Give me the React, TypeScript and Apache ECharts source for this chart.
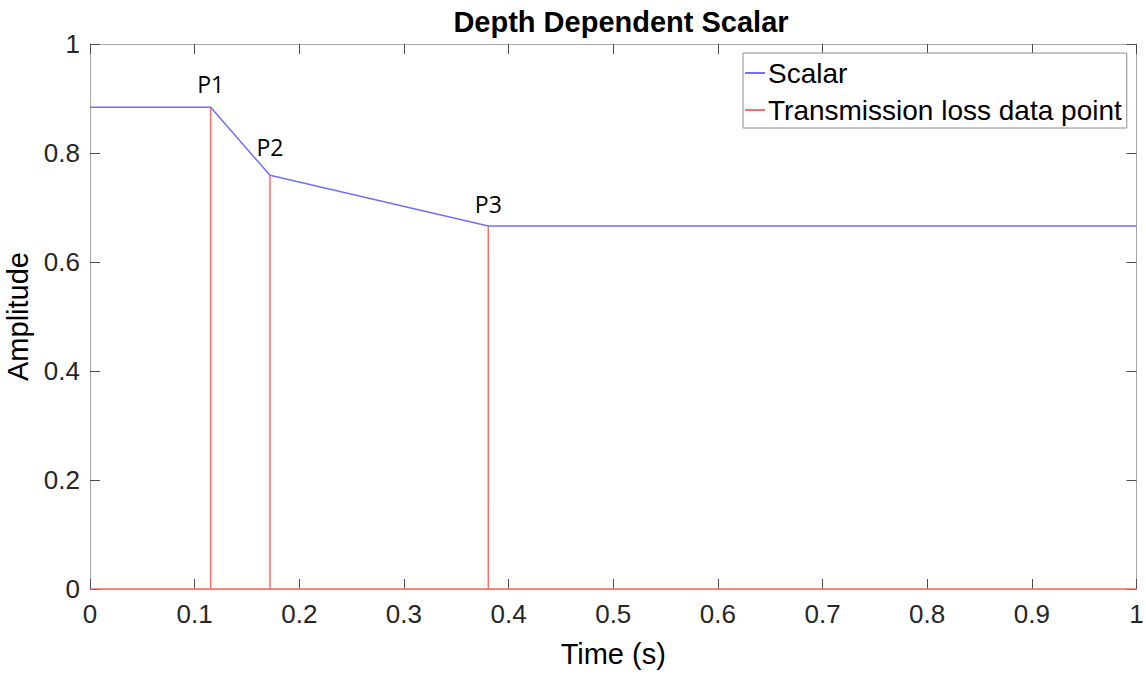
import React, { useEffect, useRef } from "react";
import * as echarts from "echarts";

const pointNames = ["P1", "P2", "P3"];
const pointTimes = [0.1153, 0.172, 0.3806];
const pointAmps = [0.884, 0.759, 0.666];
const startAmp = 0.884;
const endAmp = 0.666;
const xRange = [0, 1];
const yRange = [0, 1];
const labelOffsets = [-1, -6, 0];

export default function App() {
  const ref = useRef<HTMLDivElement>(null);
  useEffect(() => {
    if (!ref.current) return;
    const chart = echarts.init(ref.current, null, { renderer: "svg" });
    const scalar: number[][] = [[xRange[0], startAmp]];
    pointTimes.forEach((t, i) => scalar.push([t, pointAmps[i]]));
    scalar.push([xRange[1], endAmp]);

    const stems: number[][] = [[xRange[0], 0]];
    pointTimes.forEach((t, i) => {
      stems.push([t, 0], [t, pointAmps[i]], [t, 0]);
    });
    stems.push([xRange[1], 0]);

    const labels = pointTimes.map((t, i) => ({
      value: [t, pointAmps[i]],
      name: pointNames[i],
      label: { offset: [0, labelOffsets[i]] },
    }));

    const axisCommon = {
      type: "value" as const,
      axisLine: { show: true, onZero: false, lineStyle: { color: "#a6a6a6", width: 1 } },
      axisTick: { show: true, inside: true, length: 10, lineStyle: { color: "#4d4d4d", width: 1 } },
      splitLine: { show: false },
    };
    const tickFont = { color: "#262626", fontSize: 26, fontFamily: "Liberation Sans, Arial, sans-serif" };

    chart.setOption({
      animation: false,
      backgroundColor: "#ffffff",
      title: {
        text: "Depth Dependent Scalar",
        left: 616,
        textAlign: "center",
        top: 2,
        textStyle: { fontSize: 29, fontWeight: "bold", color: "#000", fontFamily: "Liberation Sans, Arial, sans-serif" },
      },
      grid: { left: 90, top: 44, right: 9.5, bottom: 86, containLabel: false, outerBoundsMode: "none" },
      legend: {
        orient: "vertical",
        left: 743,
        top: 53,
        padding: [5, 5, 3, 2],
        backgroundColor: "#ffffff",
        borderColor: "#8c8c8c",
        borderWidth: 1,
        itemWidth: 20,
        itemHeight: 2,
        itemGap: 7,
        icon: "rect",
        textStyle: { fontSize: 28, lineHeight: 30, color: "#000", fontFamily: "Liberation Sans, Arial, sans-serif", padding: [0, 0, 0, -2] },
        data: ["Scalar", "Transmission loss data point"],
      },
      xAxis: [
        {
          ...axisCommon,
          gridIndex: 0,
          min: xRange[0],
          max: xRange[1],
          interval: 0.1,
          position: "bottom",
          name: "Time (s)",
          nameLocation: "middle",
          nameGap: 50,
          nameTextStyle: { fontSize: 29, color: "#000", fontFamily: "Liberation Sans, Arial, sans-serif" },
          axisLabel: { ...tickFont, margin: 12 },
        },
        {
          ...axisCommon,
          gridIndex: 0,
          min: xRange[0],
          max: xRange[1],
          interval: 0.1,
          position: "top",
          axisLabel: { show: false },
        },
      ],
      yAxis: [
        {
          ...axisCommon,
          gridIndex: 0,
          min: yRange[0],
          max: yRange[1],
          interval: 0.2,
          position: "left",
          name: "Amplitude",
          nameLocation: "middle",
          nameGap: 58,
          nameTextStyle: { fontSize: 29, color: "#000", fontFamily: "Liberation Sans, Arial, sans-serif" },
          axisLabel: { ...tickFont, margin: 10 },
        },
        {
          ...axisCommon,
          gridIndex: 0,
          min: yRange[0],
          max: yRange[1],
          interval: 0.2,
          position: "right",
          axisLabel: { show: false },
        },
      ],
      series: [
        {
          name: "Scalar",
          type: "line",
          data: scalar,
          symbol: "none",
          lineStyle: { color: "#6e6eff", width: 1.5 },
          itemStyle: { color: "#6e6eff" },
          z: 3,
        },
        {
          name: "Transmission loss data point",
          type: "line",
          data: stems,
          symbol: "none",
          lineStyle: { color: "#ff6b6b", width: 1.5 },
          itemStyle: { color: "#ff6b6b" },
          z: 2,
        },
        {
          name: "labels",
          type: "scatter",
          data: labels,
          symbol: "circle",
          symbolSize: 2,
          itemStyle: { color: "rgba(0,0,0,0)" },
          silent: true,
          label: {
            show: true,
            position: "top",
            distance: 10,
            formatter: (p: any) => p.name,
            fontSize: 23,
            color: "#000000",
            opacity: 1,
            fontFamily: "Open Sans, Noto Sans, sans-serif",
          },
          z: 5,
        },
      ],
    });
    return () => chart.dispose();
  }, []);
  return (
    <div
      ref={ref}
      style={{ position: "absolute", left: 0, top: 0, width: 1146, height: 675 }}
    />
  );
}
